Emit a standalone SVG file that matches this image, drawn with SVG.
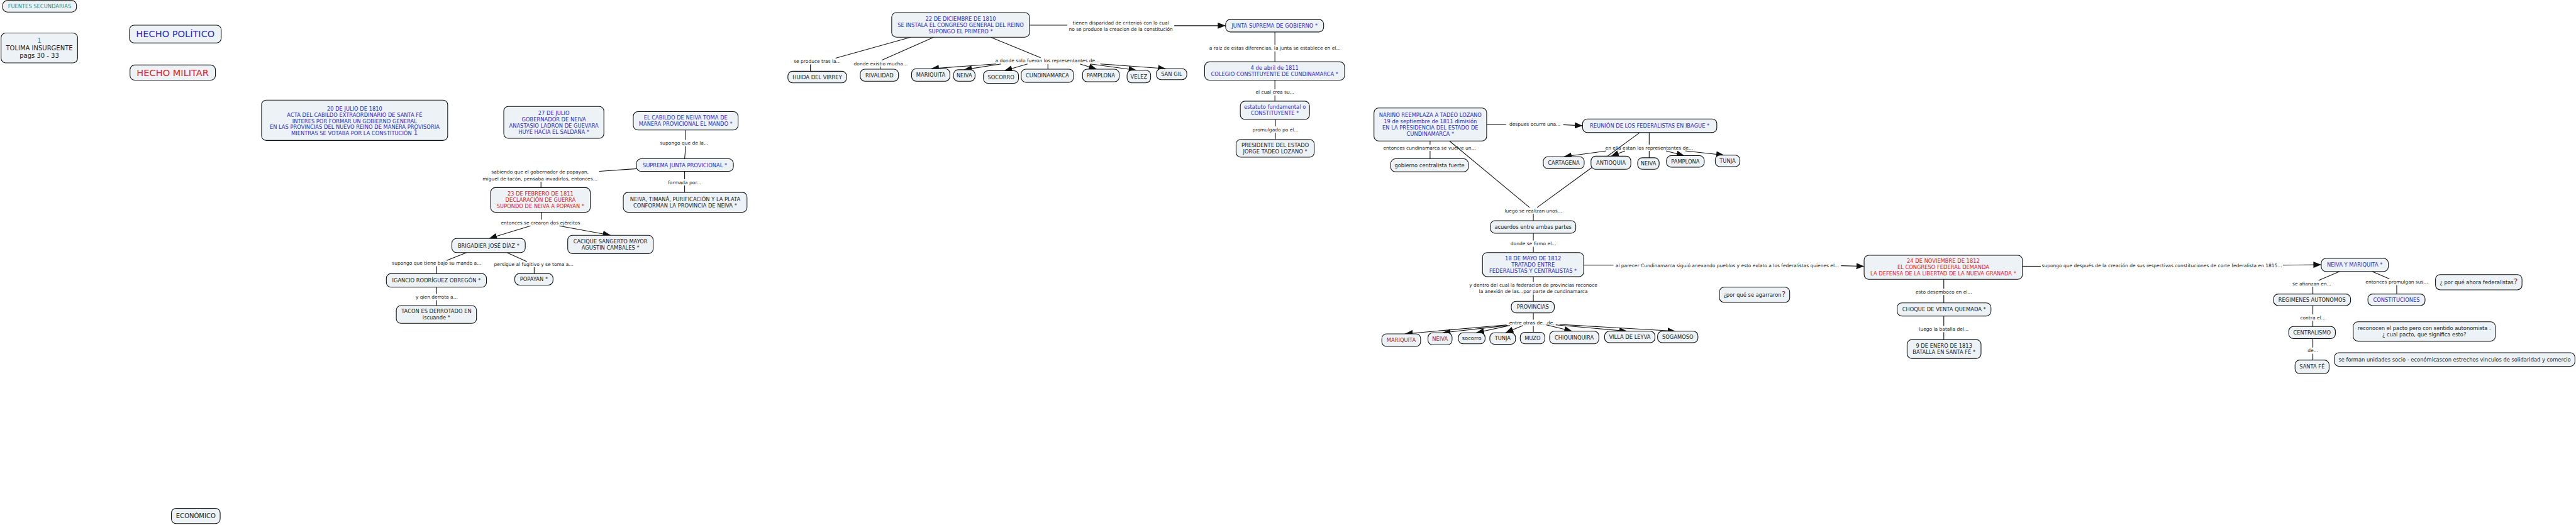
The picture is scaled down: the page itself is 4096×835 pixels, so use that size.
<svg xmlns="http://www.w3.org/2000/svg" width="4096" height="835" viewBox="0 0 4096 835">
<defs>
<style>
.n rect{fill:#ecf2f5;stroke:#111;stroke-width:1.3}
text{font-family:"DejaVu Sans",Verdana,sans-serif;text-anchor:middle}
.t{font-size:10px}
.b{fill:#2b2bcc}.r{fill:#e3231f}.k{fill:#1b1b1b}.tl{fill:#2a8c95}.dr{fill:#9b1d1d}
.l{font-size:9px;fill:#222}
#connectors line{stroke:#111;stroke-width:1.3;fill:none}
#connectors line.a{marker-end:url(#ah)}
</style>
<marker id="ah" markerUnits="userSpaceOnUse" markerWidth="16" markerHeight="12" refX="15" refY="6" orient="auto"><path d="M0,0 L15,6 L0,12 z" fill="#111"/></marker>
</defs>
<rect width="4096" height="835" fill="#fff"/>
<g transform="scale(0.83354)">
<g id="connectors">
<line x1="1308" y1="248" x2="1308" y2="267"/><line x1="1308" y1="279" x2="1306" y2="303"/>
<line x1="1306" y1="327" x2="1306" y2="342"/><line x1="1306" y1="354" x2="1306" y2="367"/>
<line x1="1214" y1="322" x2="1143" y2="327"/><line x1="1032" y1="347" x2="1032" y2="358"/>
<line x1="1033" y1="405" x2="1033" y2="419"/>
<line class="a" x1="1012" y1="431" x2="933" y2="455"/><line class="a" x1="1067" y1="431" x2="1165" y2="449"/>
<line x1="890" y1="482" x2="852" y2="497"/><line x1="833" y1="508" x2="833" y2="522"/>
<line x1="967" y1="482" x2="1005" y2="499"/><line x1="1019" y1="510" x2="1019" y2="522"/>
<line x1="833" y1="548" x2="833" y2="561"/><line x1="833" y1="573" x2="833" y2="583"/>
<line x1="1964" y1="48" x2="2036" y2="48"/><line class="a" x1="2240" y1="49" x2="2338" y2="49"/>
<line x1="1737" y1="71" x2="1594" y2="111"/><line x1="1546" y1="123" x2="1546" y2="136"/>
<line x1="1781" y1="71" x2="1682" y2="115"/><line x1="1679" y1="127" x2="1679" y2="132"/>
<line x1="1890" y1="71" x2="1985" y2="110"/>
<line class="a" x1="1900" y1="122" x2="1776" y2="131"/><line class="a" x1="1910" y1="122" x2="1839" y2="133"/>
<line class="a" x1="1960" y1="122" x2="1916" y2="135"/><line x1="1999" y1="122" x2="1999" y2="132"/>
<line class="a" x1="2060" y1="122" x2="2092" y2="132"/><line class="a" x1="2080" y1="122" x2="2168" y2="134"/>
<line class="a" x1="2099" y1="122" x2="2224" y2="131"/>
<line x1="2432" y1="61" x2="2432" y2="86"/><line x1="2432" y1="98" x2="2432" y2="118"/>
<line x1="2432" y1="153" x2="2432" y2="170"/><line x1="2432" y1="182" x2="2432" y2="193"/>
<line x1="2433" y1="228" x2="2433" y2="241"/><line x1="2433" y1="253" x2="2433" y2="266"/>
<line x1="2836" y1="237" x2="2873" y2="237"/><line class="a" x1="2982" y1="238" x2="3019" y2="240"/>
<line x1="2728" y1="269" x2="2728" y2="276"/><line x1="2728" y1="288" x2="2728" y2="303"/>
<line x1="3146" y1="253" x2="3146" y2="276"/>
<line class="a" x1="3064" y1="288" x2="2983" y2="299"/><line class="a" x1="3100" y1="288" x2="3073" y2="298"/>
<line x1="3146" y1="288" x2="3146" y2="301"/>
<line class="a" x1="3178" y1="288" x2="3213" y2="297"/><line class="a" x1="3215" y1="288" x2="3289" y2="296"/>
<line x1="2765" y1="269" x2="2918" y2="396"/><line x1="3128" y1="253" x2="2932" y2="396"/>
<line x1="2925" y1="408" x2="2925" y2="421"/>
<line x1="2925" y1="445" x2="2925" y2="459"/><line x1="2925" y1="471" x2="2925" y2="482"/>
<line x1="3021" y1="506" x2="3078" y2="506"/><line class="a" x1="3512" y1="507" x2="3556" y2="508"/>
<line x1="2925" y1="528" x2="2925" y2="538"/><line x1="2925" y1="562" x2="2925" y2="575"/>
<line x1="2925" y1="597" x2="2925" y2="610"/>
<line class="a" x1="2874" y1="620" x2="2680" y2="637"/><line class="a" x1="2876" y1="621" x2="2752" y2="635"/>
<line class="a" x1="2880" y1="621" x2="2816" y2="635"/><line class="a" x1="2905" y1="621" x2="2872" y2="635"/>
<line x1="2925" y1="622" x2="2925" y2="634"/>
<line class="a" x1="2950" y1="620" x2="2999" y2="632"/><line class="a" x1="2968" y1="620" x2="3104" y2="632"/>
<line class="a" x1="2975" y1="619" x2="3196" y2="632"/>
<line x1="3858" y1="508" x2="3893" y2="508"/><line class="a" x1="4355" y1="506" x2="4428" y2="505"/>
<line x1="3708" y1="533" x2="3708" y2="551"/><line x1="3708" y1="563" x2="3708" y2="578"/>
<line x1="3708" y1="603" x2="3708" y2="622"/><line x1="3708" y1="634" x2="3708" y2="648"/>
<line x1="4463" y1="518" x2="4423" y2="535"/><line x1="4412" y1="547" x2="4412" y2="561"/>
<line x1="4525" y1="518" x2="4558" y2="532"/><line x1="4572" y1="544" x2="4572" y2="561"/>
<line x1="4412" y1="583" x2="4412" y2="600"/><line x1="4412" y1="612" x2="4412" y2="623"/>
<line x1="4412" y1="646" x2="4412" y2="663"/><line x1="4412" y1="675" x2="4412" y2="687"/>
<g class="l">
<text x="1305" y="276.2">supongo que de la...</text>
<text x="1306" y="351.2">formada por...</text>
<text x="1030" y="331.2">sabiendo que el gobernador de popayan,</text>
<text x="1030" y="344.2">miguel de tacón, pensaba invadirlos, entonces...</text>
<text x="1031" y="428.2">entonces se crearon dos ejércitos</text>
<text x="833" y="505.2">supongo que tiene bajo su mando a...</text>
<text x="1018" y="507.2">persigue al fugitivo y se toma a...</text>
<text x="833" y="570.2">y qien derrota a...</text>
<text x="2138" y="47.2">tienen disparidad de criterios con lo cual</text>
<text x="2138" y="58.2">no se produce la creacion de la constitución</text>
<text x="1559" y="120.2">se produce tras la...</text>
<text x="1680" y="124.2">donde existio mucha...</text>
<text x="1998" y="119.2">a donde solo fueron los representantes de...</text>
<text x="2432" y="95.2">a raiz de estas diferencias, la junta se establece en el...</text>
<text x="2432" y="179.2">el cual crea su...</text>
<text x="2433" y="250.2">promulgado po el...</text>
<text x="2928" y="240.2">despues ocurre una...</text>
<text x="2727" y="285.2">entonces cundinamarca se vuelve un...</text>
<text x="3146" y="285.2">en ella estan los representantes de...</text>
<text x="2925" y="405.2">luego se realizan unos...</text>
<text x="2925" y="468.2">donde se firmo el...</text>
<text x="2925" y="547.2">y dentro del cual la federacion de provincias reconoce</text>
<text x="2925" y="559.2">la anexión de las...por parte de cundinamarca</text>
<text x="2925" y="619.2">entre otras de...de...</text>
<text x="3295" y="510.2">al parecer Cundinamarca siguió anexando pueblos y esto exlato a los federalistas quienes el...</text>
<text x="3708" y="560.2">esto desemboco en el...</text>
<text x="3708" y="631.2">luego la batalla del...</text>
<text x="4124" y="510.2">supongo que después de la creación de sus respectivas constituciones de corte federalista en 1815...</text>
<text x="4410" y="544.2">se afianzan en...</text>
<text x="4572" y="541.2">entonces promulgan sus...</text>
<text x="4412" y="609.2">contra el...</text>
<text x="4412" y="672.2">de...</text>
</g>
</g>
<g id="fuentes" class="n"><rect x="5" y="1" width="141" height="22" rx="9"/><text class="t tl" x="75.5" y="15.6">FUENTES SECUNDARIAS</text></g>
<g id="tolima" class="n"><rect x="2" y="63" width="146" height="57" rx="9"/><text class="tl" font-size="12" x="75" y="81.3">1</text><text class="k" font-size="12" x="75" y="95.8">TOLIMA INSURGENTE</text><text class="k" font-size="12" x="75" y="110.3">pags 30 - 33</text></g>
<g id="hecho_politico" class="n"><rect x="247" y="48" width="175" height="34" rx="9"/><text class="b" font-size="17.5" x="334.5" y="71.3">HECHO POLÍTICO</text></g>
<g id="hecho_militar" class="n"><rect x="248" y="124" width="163" height="29" rx="9"/><text class="r" font-size="17.5" x="329.5" y="144.8">HECHO MILITAR</text></g>
<g id="economico" class="n"><rect x="327" y="970" width="93" height="29" rx="9"/><text class="k" font-size="12" x="373.5" y="988.8">ECONÓMICO</text></g>
<g id="julio20" class="n"><rect x="499" y="191" width="355" height="77" rx="9"/>
<text class="t b" x="676.5" y="211.6">20 DE JULIO DE 1810</text>
<text class="t b" x="676.5" y="223.1">ACTA DEL CABILDO EXTRAORDINARIO DE SANTA FÉ</text>
<text class="t b" x="676.5" y="234.6">INTERES POR FORMAR UN GOBIERNO GENERAL</text>
<text class="t b" x="676.5" y="246.1">EN LAS PROVINCIAS DEL NUEVO REINO DE MANERA PROVISORIA</text>
<text class="t b" x="676.5" y="258.1">MIENTRAS SE VOTABA POR LA CONSTITUCIÓN <tspan font-size="14">1</tspan></text></g>
<g id="julio27" class="n"><rect x="961" y="203" width="191" height="61" rx="9"/>
<text class="t b" x="1056.5" y="219.1">27 DE JULIO</text>
<text class="t b" x="1056.5" y="231.1">GOBERNADOR DE NEIVA</text>
<text class="t b" x="1056.5" y="243.1">ANASTASIO LADRON DE GUEVARA</text>
<text class="t b" x="1056.5" y="255.1">HUYE HACIA EL SALDAÑA *</text></g>
<g id="cabildo" class="n"><rect x="1208" y="213" width="200" height="35" rx="9"/>
<text class="t b" x="1308" y="228.3">EL CABILDO DE NEIVA TOMA DE</text>
<text class="t b" x="1308" y="240.3">MANERA PROVICIONAL EL MANDO *</text></g>
<g id="suprema" class="n"><rect x="1214" y="303" width="185" height="24" rx="9"/><text class="t b" x="1306.5" y="318.6">SUPREMA JUNTA PROVICIONAL *</text></g>
<g id="neiva_prov" class="n"><rect x="1189" y="367" width="236" height="38" rx="9"/>
<text class="t k" x="1307" y="383.6">NEIVA, TIMANÁ, PURIFICACIÓN Y LA PLATA</text>
<text class="t k" x="1307" y="395.6">CONFORMAN LA PROVINCIA DE NEIVA *</text></g>
<g id="feb23" class="n"><rect x="936" y="358" width="190" height="47" rx="9"/>
<text class="t r" x="1031" y="373.1">23 DE FEBRERO DE 1811</text>
<text class="t r" x="1031" y="385.1">DECLARACIÓN DE GUERRA</text>
<text class="t r" x="1031" y="397.1">SUPONDO DE NEIVA A POPAYAN *</text></g>
<g id="brigadier" class="n"><rect x="862" y="455" width="140" height="27" rx="9"/><text class="t k" x="932" y="472.1">BRIGADIER JOSÉ DÍAZ *</text></g>
<g id="cacique" class="n"><rect x="1083" y="449" width="163" height="35" rx="9"/>
<text class="t k" x="1164.5" y="464.1">CACIQUE SANGERTO MAYOR</text>
<text class="t k" x="1164.5" y="476.1">AGUSTIN CAMBALES *</text></g>
<g id="igancio" class="n"><rect x="737" y="522" width="191" height="26" rx="9"/><text class="t k" x="832.5" y="538.6">IGANCIO RODRÍGUEZ OBREGÓN *</text></g>
<g id="popayan" class="n"><rect x="982" y="522" width="73" height="22" rx="9"/><text class="t k" x="1018.5" y="536.6">POPAYAN *</text></g>
<g id="tacon" class="n"><rect x="756" y="583" width="153" height="34" rx="9"/>
<text class="t k" x="832.5" y="597.6">TACON ES DERROTADO EN</text>
<text class="t k" x="832.5" y="609.6">iscuande *</text></g>
<g id="dic22" class="n"><rect x="1701" y="24" width="263" height="47" rx="9"/>
<text class="t b" x="1832.5" y="39.6">22 DE DICIEMBRE DE 1810</text>
<text class="t b" x="1832.5" y="51.6">SE INSTALA EL CONGRESO GENERAL DEL REINO</text>
<text class="t b" x="1832.5" y="63.6">SUPONGO EL PRIMERO *</text></g>
<g id="junta" class="n"><rect x="2338" y="37" width="187" height="24" rx="9"/><text class="t b" x="2431.5" y="52.6">JUNTA SUPREMA DE GOBIERNO *</text></g>
<g id="huida" class="n"><rect x="1503" y="136" width="112" height="22" rx="9"/><text class="t k" x="1559" y="150.6">HUIDA DEL VIRREY</text></g>
<g id="rivalidad" class="n"><rect x="1641" y="132" width="73" height="23" rx="9"/><text class="t k" x="1677.5" y="147.1">RIVALIDAD</text></g>
<g id="mariquita1" class="n"><rect x="1739" y="131" width="73" height="24" rx="9"/><text class="t k" x="1775.5" y="146.6">MARIQUITA</text></g>
<g id="neiva1" class="n"><rect x="1819" y="133" width="41" height="22" rx="9"/><text class="t k" x="1839.5" y="147.6">NEIVA</text></g>
<g id="socorro1" class="n"><rect x="1876" y="135" width="67" height="24" rx="9"/><text class="t k" x="1909.5" y="150.6">SOCORRO</text></g>
<g id="cundinamarca1" class="n"><rect x="1948" y="132" width="100" height="25" rx="9"/><text class="t k" x="1998" y="148.1">CUNDINAMARCA</text></g>
<g id="pamplona1" class="n"><rect x="2065" y="132" width="70" height="24" rx="9"/><text class="t k" x="2100" y="147.6">PAMPLONA</text></g>
<g id="velez1" class="n"><rect x="2150" y="134" width="45" height="24" rx="9"/><text class="t k" x="2172.5" y="149.6">VELEZ</text></g>
<g id="sangil1" class="n"><rect x="2206" y="131" width="58" height="21" rx="9"/><text class="t k" x="2235" y="145.1">SAN GIL</text></g>
<g id="abril4" class="n"><rect x="2298" y="118" width="267" height="35" rx="9"/>
<text class="t b" x="2431.5" y="133.1">4 de abril de 1811</text>
<text class="t b" x="2431.5" y="145.1">COLEGIO CONSTITUYENTE DE CUNDINAMARCA *</text></g>
<g id="estatuto" class="n"><rect x="2366" y="193" width="132" height="35" rx="9"/>
<text class="t b" x="2432" y="208.1">estatuto fundamental o</text>
<text class="t b" x="2432" y="220.1">CONSTITUYENTE *</text></g>
<g id="presidente" class="n"><rect x="2358" y="266" width="149" height="34" rx="9"/>
<text class="t k" x="2432.5" y="280.6">PRESIDENTE DEL ESTADO</text>
<text class="t k" x="2432.5" y="292.6">JORGE TADEO LOZANO *</text></g>
<g id="narino" class="n"><rect x="2621" y="206" width="215" height="63" rx="9"/>
<text class="t b" x="2728.5" y="223.1">NARIÑO REEMPLAZA A TADEO LOZANO</text>
<text class="t b" x="2728.5" y="235.1">19 de septiembre de 1811 dimisión</text>
<text class="t b" x="2728.5" y="247.1">EN LA PRESIDENCIA DEL ESTADO DE</text>
<text class="t b" x="2728.5" y="259.1">CUNDINAMARCA *</text></g>
<g id="reunion" class="n"><rect x="3019" y="227" width="256" height="26" rx="9"/><text class="t b" x="3147" y="243.6">REUNIÓN DE LOS FEDERALISTAS EN IBAGUE *</text></g>
<g id="gobierno" class="n"><rect x="2653" y="303" width="148" height="25" rx="9"/><text class="t k" x="2727" y="319.1">gobierno centralista fuerte</text></g>
<g id="cartagena" class="n"><rect x="2944" y="299" width="78" height="23" rx="9"/><text class="t k" x="2983" y="314.1">CARTAGENA</text></g>
<g id="antioquia" class="n"><rect x="3035" y="298" width="76" height="25" rx="9"/><text class="t k" x="3073" y="314.1">ANTIOQUIA</text></g>
<g id="neiva2" class="n"><rect x="3124" y="301" width="41" height="22" rx="9"/><text class="t k" x="3144.5" y="315.6">NEIVA</text></g>
<g id="pamplona2" class="n"><rect x="3179" y="297" width="72" height="22" rx="9"/><text class="t k" x="3215" y="311.6">PAMPLONA</text></g>
<g id="tunja2" class="n"><rect x="3272" y="296" width="47" height="22" rx="9"/><text class="t k" x="3295.5" y="310.6">TUNJA</text></g>
<g id="acuerdos" class="n"><rect x="2843" y="421" width="163" height="24" rx="9"/><text class="t k" x="2924.5" y="436.6">acuerdos entre ambas partes</text></g>
<g id="mayo18" class="n"><rect x="2828" y="482" width="193" height="46" rx="9"/>
<text class="t b" x="2924.5" y="496.6">18 DE MAYO DE 1812</text>
<text class="t b" x="2924.5" y="508.6">TRATADO ENTRE</text>
<text class="t b" x="2924.5" y="520.6">FEDERALISTAS Y CENTRALISTAS *</text></g>
<g id="provincias" class="n"><rect x="2883" y="575" width="82" height="22" rx="9"/><text class="t k" x="2924" y="589.6">PROVINCIAS</text></g>
<g id="mariquita3" class="n"><rect x="2636" y="637" width="74" height="24" rx="9"/><text class="t dr" x="2673" y="652.6">MARIQUITA</text></g>
<g id="neiva3" class="n"><rect x="2724" y="635" width="46" height="23" rx="9"/><text class="t dr" x="2747" y="650.1">NEIVA</text></g>
<g id="socorro3" class="n"><rect x="2782" y="635" width="51" height="21" rx="9"/><text class="t k" x="2807.5" y="649.1">socorro</text></g>
<g id="tunja3" class="n"><rect x="2842" y="635" width="49" height="22" rx="9"/><text class="t k" x="2866.5" y="649.6">TUNJA</text></g>
<g id="muzo" class="n"><rect x="2900" y="634" width="47" height="22" rx="9"/><text class="t k" x="2923.5" y="648.6">MUZO</text></g>
<g id="chiquinquira" class="n"><rect x="2956" y="632" width="94" height="24" rx="9"/><text class="t k" x="3003" y="647.6">CHIQUINQUIRA</text></g>
<g id="villa" class="n"><rect x="3061" y="632" width="96" height="22" rx="9"/><text class="t k" x="3109" y="646.6">VILLA DE LEYVA</text></g>
<g id="sogamoso" class="n"><rect x="3162" y="632" width="77" height="22" rx="9"/><text class="t k" x="3200.5" y="646.6">SOGAMOSO</text></g>
<g id="agarraron" class="n"><rect x="3280" y="548" width="134" height="29" rx="9"/><text class="t k" x="3347" y="566.1">¿por qué se agarraron<tspan class="dr" font-size="15">?</tspan></text></g>
<g id="nov24" class="n"><rect x="3556" y="487" width="302" height="46" rx="9"/>
<text class="t r" x="3707" y="501.6">24 DE NOVIEMBRE DE 1812</text>
<text class="t r" x="3707" y="513.6">EL CONGRESO FEDERAL DEMANDA</text>
<text class="t r" x="3707" y="525.6">LA DEFENSA DE LA LIBERTAD DE LA NUEVA GRANADA *</text></g>
<g id="choque" class="n"><rect x="3619" y="578" width="179" height="25" rx="9"/><text class="t k" x="3708.5" y="594.1">CHOQUE DE VENTA QUEMADA *</text></g>
<g id="enero9" class="n"><rect x="3638" y="648" width="141" height="36" rx="9"/>
<text class="t k" x="3708.5" y="663.6">9 DE ENERO DE 1813</text>
<text class="t k" x="3708.5" y="675.6">BATALLA EN SANTA FÉ *</text></g>
<g id="neivamariq" class="n"><rect x="4428" y="493" width="128" height="25" rx="9"/><text class="t b" x="4492" y="509.1">NEIVA Y MARIQUITA *</text></g>
<g id="regimenes" class="n"><rect x="4337" y="561" width="147" height="22" rx="9"/><text class="t k" x="4410.5" y="575.6">REGIMENES AUTONOMOS</text></g>
<g id="constituciones" class="n"><rect x="4517" y="561" width="109" height="22" rx="9"/><text class="t b" x="4571.5" y="575.6">CONSTITUCIONES</text></g>
<g id="porque" class="n"><rect x="4646" y="524" width="165" height="29" rx="9"/><text class="t k" x="4728.5" y="542.1">¿ por qué ahora federalistas<tspan class="dr" font-size="15">?</tspan></text></g>
<g id="centralismo" class="n"><rect x="4366" y="623" width="89" height="23" rx="9"/><text class="t k" x="4410.5" y="638.1">CENTRALISMO</text></g>
<g id="santafe" class="n"><rect x="4378" y="687" width="65" height="26" rx="9"/><text class="t k" x="4410.5" y="703.6">SANTA FÉ</text></g>
<g id="reconocen" class="n"><rect x="4489" y="614" width="271" height="37" rx="9"/>
<text class="t k" x="4624.5" y="629.6">reconocen el pacto pero con sentido autonomista .</text>
<text class="t k" x="4624.5" y="641.6">¿ cual pacto, que significa esto?</text></g>
<g id="seforman" class="n"><rect x="4453" y="673" width="459" height="26" rx="9"/><text class="t k" x="4682.5" y="689.6">se forman unidades socio - económicascon estrechos vinculos de solidaridad y comercio</text></g>
</g>
</svg>
